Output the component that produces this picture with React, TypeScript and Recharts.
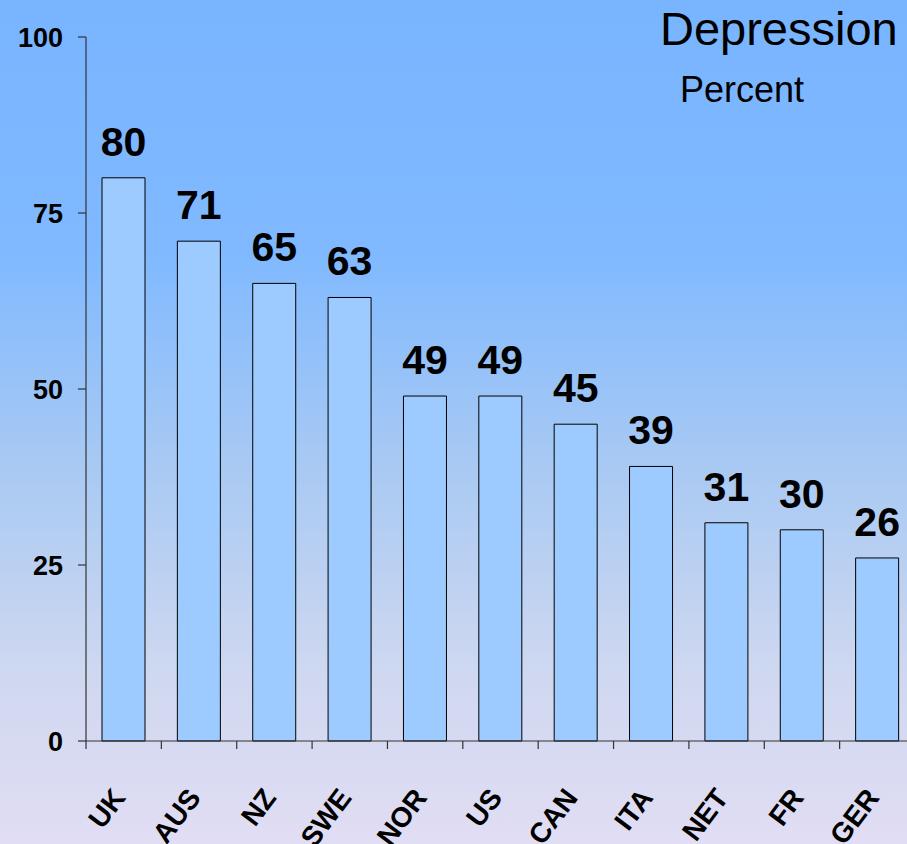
import React from 'react';
import { BarChart, Bar, XAxis, YAxis, LabelList } from 'recharts';

const countries = ['UK', 'AUS', 'NZ', 'SWE', 'NOR', 'US', 'CAN', 'ITA', 'NET', 'FR', 'GER'];
const percents = [80, 71, 65, 63, 49, 49, 45, 39, 31, 30, 26];
const yTicks = [0, 25, 50, 75, 100];

const data = countries.map((name, i) => ({ name, value: percents[i] }));

const FONT = '"Liberation Sans", Arial, Helvetica, sans-serif';
const CHART_W = 915;
const CHART_H = 844;
const Y_AXIS_W = 86;
const HALF_BAND = (CHART_W - Y_AXIS_W) / countries.length / 2;

// category label rotated, plus tick line at left edge of each band
function CountryTick(props: any) {
  const { x, y, payload } = props;
  const edge = x - HALF_BAND;
  const tx = x + 3;
  const ty = y + 49;
  return (
    <g>
      <line x1={edge} y1={y - 8} x2={edge} y2={y} stroke="#333" strokeWidth={1.2} />
      <text
        x={tx}
        y={ty}
        transform={`rotate(-53, ${tx}, ${ty})`}
        textAnchor="end"
        fontFamily={FONT}
        fontWeight="bold"
        fontSize={28}
        fill="#000"
      >
        {payload.value}
      </text>
    </g>
  );
}

function PercentTick(props: any) {
  const { x, y, payload } = props;
  return (
    <text x={x + 1} y={y} dy={10} textAnchor="end" fontFamily={FONT} fontWeight="bold" fontSize={27} fill="#000">
      {payload.value}
    </text>
  );
}

export default function App() {
  return (
    <div
      style={{
        position: 'absolute',
        left: 0,
        top: 0,
        width: 907,
        height: 844,
        overflow: 'hidden',
        background: 'linear-gradient(180deg, #79b4ff 0%, #80b9ff 30%, #a8c9f3 55%, #cfd8f0 80%, #e1ddf4 100%)',
        fontFamily: FONT,
      }}
    >
      <svg width={907} height={844} style={{ position: 'absolute', left: 0, top: 0, pointerEvents: 'none' }}>
        <text x={660} y={45} fontFamily={FONT} fontSize={47} fill="#000">
          Depression
        </text>
        <text x={680} y={102} fontFamily={FONT} fontSize={36} fill="#000">
          Percent
        </text>
      </svg>
      <div style={{ position: 'absolute', left: 0, top: 0 }}>
        <BarChart
          width={CHART_W}
          height={CHART_H}
          data={data}
          margin={{ top: 37, right: 0, bottom: 0, left: 0 }}
          barCategoryGap={16}
        >
          <XAxis
            dataKey="name"
            height={103}
            interval={0}
            tickLine={false}
            axisLine={{ stroke: '#333', strokeWidth: 1.2 }}
            tick={<CountryTick />}
          />
          <YAxis
            width={Y_AXIS_W}
            domain={[0, 100]}
            ticks={yTicks}
            interval={0}
            tickSize={8}
            tickMargin={16}
            axisLine={{ stroke: '#333', strokeWidth: 1.2 }}
            tickLine={{ stroke: '#333', strokeWidth: 1.2 }}
            tick={<PercentTick />}
          />
          <Bar dataKey="value" fill="#9dcbff" stroke="#000" strokeWidth={1} isAnimationActive={false}>
            <LabelList
              dataKey="value"
              position="top"
              offset={22}
              fill="#000"
              fontSize={41}
              fontWeight="bold"
              fontFamily={FONT}
            />
          </Bar>
        </BarChart>
      </div>
    </div>
  );
}
